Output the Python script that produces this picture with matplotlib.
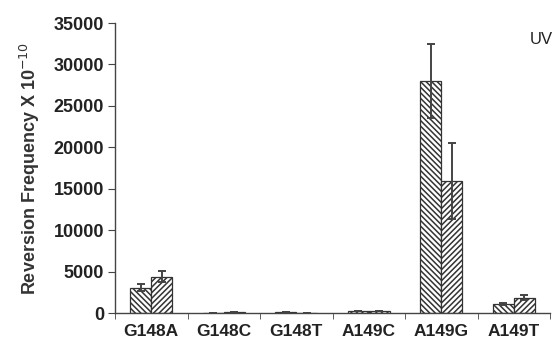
import matplotlib
matplotlib.use("Agg")
import matplotlib.pyplot as plt
import numpy as np

plt.rcParams['font.family'] = ['Liberation Sans', 'DejaVu Sans']
plt.rcParams['hatch.linewidth'] = 1.1
plt.rcParams['hatch.color'] = '#333333'

categories = ["G148A", "G148C", "G148T", "A149C", "A149G", "A149T"]
series1 = [3050, 30, 100, 250, 28000, 1100]
series1_err = [400, 10, 20, 40, 4500, 100]
series2 = [4400, 100, 30, 250, 15900, 1850]
series2_err = [700, 20, 10, 40, 4600, 300]
yticks = [0, 5000, 10000, 15000, 20000, 25000, 30000, 35000]

fig = plt.figure(figsize=(5.52, 3.45), dpi=100)
ax = fig.add_axes([115/552, 1-313/345, 435/552, 290/345])

x = np.arange(len(categories))
w = 0.29
ax.bar(x - w/2, series1, w, color='white', edgecolor='#333333', hatch='\\' * 6, linewidth=0.9)
ax.bar(x + w/2, series2, w, color='white', edgecolor='#333333', hatch='/' * 6, linewidth=0.9)
ax.errorbar(x - w/2, series1, yerr=series1_err, fmt='none', ecolor='#444444', elinewidth=1.4, capsize=3, capthick=1.4)
ax.errorbar(x + w/2, series2, yerr=series2_err, fmt='none', ecolor='#444444', elinewidth=1.4, capsize=3, capthick=1.4)

ax.set_xlim(-0.5, len(categories) - 0.5)
ax.set_ylim(0, 35000)
ax.set_yticks(yticks)
ax.set_yticklabels([str(v) for v in yticks], fontweight='bold', fontsize=13, color='#222222')
ax.set_xticks(x)
ax.set_xticklabels(categories, fontweight='bold', fontsize=12.5, color='#222222')
ax.tick_params(axis='x', which='major', length=0, pad=8)
ax.set_xticks(np.arange(-0.5, len(categories), 1.0), minor=True)
ax.tick_params(axis='x', which='minor', length=4, direction='out', color='#444444')
ax.tick_params(axis='y', length=5, direction='out', color='#444444', pad=3)

for s in ['top', 'right']:
    ax.spines[s].set_visible(False)
for s in ['left', 'bottom']:
    ax.spines[s].set_color('#444444')
    ax.spines[s].set_linewidth(1.0)

ax.set_ylabel("Reversion Frequency X 10$^{-10}$", fontweight='bold', fontsize=13, color='#333333', labelpad=8)
fig.text(530/552, 1-40/345, "UV", fontsize=12, color='#222222', va='center', ha='left')

fig.savefig("out.png", dpi=100)
